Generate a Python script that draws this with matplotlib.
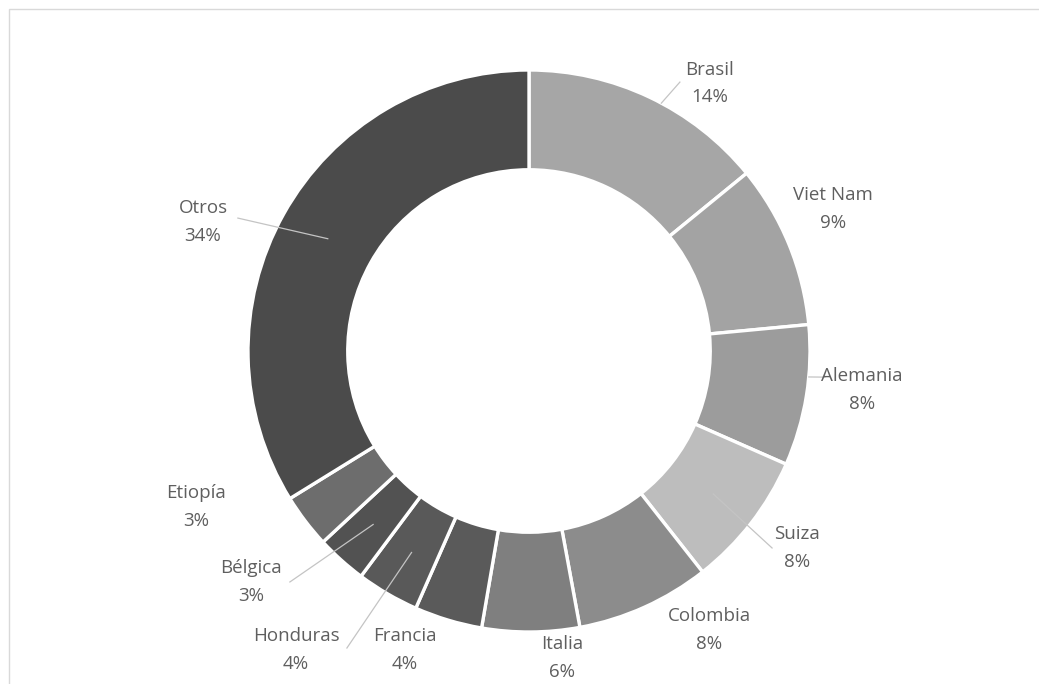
import numpy as np
import matplotlib
matplotlib.use("Agg")
import matplotlib.pyplot as plt
from matplotlib.patches import Rectangle

# share of each origin, clockwise from the top
paises = ["Brasil", "Viet Nam", "Alemania", "Suiza", "Colombia", "Italia",
          "Francia", "Honduras", "Bélgica", "Etiopía", "Otros"]
porcentajes = [14.1, 9.4, 8.1, 7.8, 7.7, 5.6, 3.9, 3.6, 2.9, 3.1, 33.8]
colores = ["#a6a6a6", "#a3a3a3", "#9c9c9c", "#bdbdbd", "#8c8c8c", "#7f7f7f",
           "#5a5a5a", "#595959", "#525252", "#6d6d6d", "#4b4b4b"]

# label block centres (in units of the outer radius)
pos_etiquetas = {
    "Brasil": (0.644, 0.952), "Viet Nam": (1.082, 0.505),
    "Alemania": (1.185, -0.139), "Suiza": (0.954, -0.701),
    "Colombia": (0.641, -0.993), "Italia": (0.117, -1.093),
    "Francia": (-0.441, -1.064), "Honduras": (-0.829, -1.064),
    "Bélgica": (-0.989, -0.822), "Etiopía": (-1.185, -0.555),
    "Otros": (-1.160, 0.459),
}
# leader lines: start point, end radius, end angle (None = mid angle of the wedge)
guias = {
    "Brasil": ((0.537, 0.957), 1.0, 61.9),
    "Alemania": ((1.053, -0.093), 1.0, -5.3),
    "Suiza": ((0.865, -0.701), 0.83, None),
    "Honduras": ((-0.648, -1.057), 0.83, None),
    "Bélgica": ((-0.851, -0.822), 0.83, None),
    "Otros": ((-1.036, 0.473), 0.82, None),
}

W, H = 1039, 684
cx, cy, R = 529, 351, 281

fig = plt.figure(figsize=(W / 100, H / 100), dpi=100)
ax = fig.add_axes([0, 0, 1, 1])

wedges, _ = ax.pie(porcentajes, colors=colores, startangle=90, counterclock=False,
                   radius=1.0, wedgeprops=dict(width=0.355, edgecolor="white", linewidth=2.4))

# pie() resets the limits, so set them afterwards
ax.set_xlim(-cx / R, (W - cx) / R)
ax.set_ylim(-(H - cy) / R, cy / R)
ax.set_aspect("equal")
ax.axis("off")

for w, nombre, pct in zip(wedges, paises, porcentajes):
    if nombre in guias:
        (sx, sy), r, ang = guias[nombre]
        if ang is None:
            ang = (w.theta1 + w.theta2) / 2
        ex, ey = r * np.cos(np.radians(ang)), r * np.sin(np.radians(ang))
        ax.plot([sx, ex], [sy, ey], color="#c4c4c4", lw=0.9, zorder=3)
    tx, ty = pos_etiquetas[nombre]
    ax.text(tx, ty, f"{nombre}\n{pct:.0f}%", ha="center", va="center",
            fontsize=13.5, family="Open Sans", color="#5f5f5f", linespacing=1.68, zorder=4)

# chart area frame (right and bottom edges run off the canvas)
fig.patches.append(Rectangle((9 / W, -0.05), (1045 - 9) / W, (H - 9) / H + 0.05,
                             transform=fig.transFigure, fill=False,
                             edgecolor="#d9d9d9", lw=1.0))

fig.savefig("out.png", dpi=100)
